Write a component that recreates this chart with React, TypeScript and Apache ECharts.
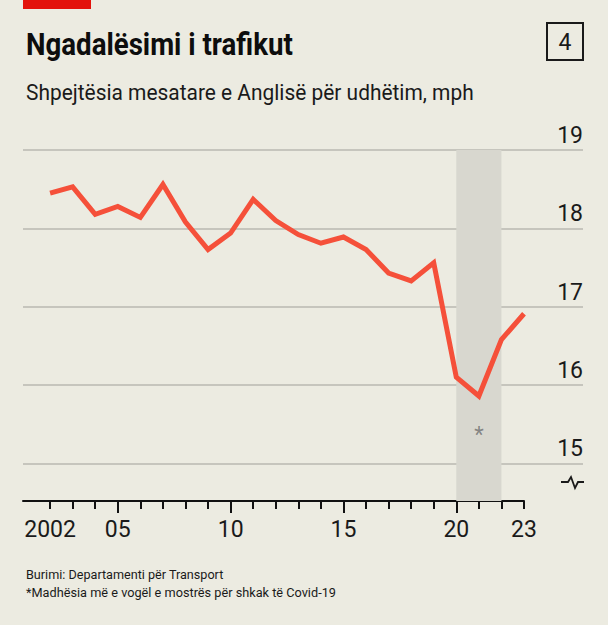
import React, { useEffect, useRef } from "react";
import * as echarts from "echarts";

const years = [2002, 2003, 2004, 2005, 2006, 2007, 2008, 2009, 2010, 2011, 2012, 2013, 2014, 2015, 2016, 2017, 2018, 2019, 2020, 2021, 2022, 2023];
const speeds = [18.45, 18.53, 18.18, 18.28, 18.14, 18.56, 18.08, 17.73, 17.94, 18.37, 18.1, 17.92, 17.81, 17.89, 17.73, 17.43, 17.33, 17.56, 16.1, 15.86, 16.58, 16.91];
const yTicks = [15, 16, 17, 18, 19];
const xLabelYears = [2002, 2005, 2010, 2015, 2020, 2023];
const xMajorTicks = [2005, 2010, 2015, 2020];
const covidSpan = [2020, 2022];
const footnoteMark = [2021, 15.37];

const title = "Ngadalësimi i trafikut";
const subtitle = "Shpejtësia mesatare e Anglisë për udhëtim, mph";
const source = "Burimi: Departamenti për Transport";
const note = "*Madhësia më e vogël e mostrës për shkak të Covid-19";
const chartNumber = "4";

const BG = "#ecebe1";
const LINE = "#f5503a";
const TEXT = "#1a1a1a";
const FONT = "Roboto, 'Liberation Sans', sans-serif";

function fitScale(text: string, font: string, width: number): number {
  const c = document.createElement("canvas").getContext("2d");
  if (!c) return 1;
  c.font = font;
  const w = c.measureText(text).width;
  return w > 0 ? width / w : 1;
}

export default function App() {
  const ref = useRef<HTMLDivElement>(null);
  useEffect(() => {
    if (!ref.current) return;
    const chart = echarts.init(ref.current, null, { renderer: "svg" });
    const yMin = 14.52;
    const yMax = 19;
    const xMin = 2000.8;
    const xMax = 2023;

    const titleFont = `bold 32px ${FONT}`;
    const subFont = `22px ${FONT}`;
    const smallFont = `13px ${FONT}`;
    const titleScale = fitScale(title, titleFont, 267);
    const subScale = fitScale(subtitle, subFont, 448);
    const srcScale = fitScale(source, smallFont, 198);
    const noteScale = fitScale(note, smallFont, 310);

    chart.setOption({
      animation: false,
      backgroundColor: BG,
      grid: [
        { left: 23, right: 25, top: 150, bottom: 124 },
        { left: 23, right: 84, top: 150, bottom: 124 },
      ],
      xAxis: [
        { type: "value", gridIndex: 0, min: xMin, max: 2025.6, show: false },
        {
          type: "value", gridIndex: 1, min: xMin, max: xMax,
          splitLine: { show: false },
          axisLine: { show: true, onZero: false, lineStyle: { color: "#111", width: 2 } },
          axisTick: { show: true, length: 8, customValues: years, lineStyle: { color: "#111", width: 2 } },
          axisLabel: {
            show: true, customValues: xLabelYears, margin: 17,
            fontFamily: FONT, fontSize: 23, color: TEXT,
            formatter: (v: number) => (v === 2002 ? "2002" : String(v % 100).padStart(2, "0")),
          },
        },
        {
          type: "value", gridIndex: 1, min: xMin, max: xMax, position: "bottom",
          splitLine: { show: false },
          axisLine: { show: false, onZero: false },
          axisTick: { show: true, length: 12, customValues: xMajorTicks, lineStyle: { color: "#111", width: 2 } },
          axisLabel: { show: false },
        },
      ],
      yAxis: [
        {
          type: "value", gridIndex: 0, min: yMin, max: yMax, position: "right",
          axisLine: { show: false },
          axisTick: { show: false, customValues: yTicks },
          splitLine: { show: true, lineStyle: { color: "#c6c5bd", width: 2 } },
          axisLabel: {
            show: true, inside: true, margin: 0, customValues: yTicks,
            verticalAlign: "bottom", align: "right", padding: [0, 0, 3, 0],
            fontFamily: FONT, fontSize: 23, color: TEXT,
          },
        },
        { type: "value", gridIndex: 1, min: yMin, max: yMax, show: false },
      ],
      series: [
        {
          type: "line",
          xAxisIndex: 1, yAxisIndex: 1,
          data: years.map((y, i) => [y, speeds[i]]),
          symbol: "none",
          lineStyle: { color: LINE, width: 5, join: "miter" },
          z: 3,
          markArea: {
            silent: true,
            itemStyle: { color: "#d8d7cf" },
            data: [[{ xAxis: covidSpan[0] }, { xAxis: covidSpan[1] }]],
          },
        },
        {
          type: "scatter",
          xAxisIndex: 1, yAxisIndex: 1,
          data: [footnoteMark],
          symbolSize: 0,
          label: {
            show: true, position: "inside", formatter: "*",
            fontFamily: FONT, fontSize: 22, color: "#6f6f6f",
          },
          z: 4,
        },
      ],
      graphic: [
        { type: "rect", shape: { x: 23, y: 0, width: 68, height: 9 }, style: { fill: "#e3120b" } },
        {
          type: "text", x: 26, y: 28, scaleX: titleScale,
          style: { text: title, font: titleFont, fill: "#0d0d0d" } as any,
        },
        {
          type: "text", x: 26, y: 81, scaleX: subScale,
          style: { text: subtitle, font: subFont, fill: TEXT } as any,
        },
        {
          type: "rect", shape: { x: 547, y: 23, width: 36, height: 37 },
          style: { fill: "none", stroke: "#1a1a1a", lineWidth: 2 },
        },
        {
          type: "text", x: 565, y: 42,
          style: { text: chartNumber, font: `23px ${FONT}`, fill: TEXT, textAlign: "center", textVerticalAlign: "middle" } as any,
        },
        {
          type: "polyline",
          shape: { points: [[561, 482], [568, 482], [571, 477], [575, 488], [578, 482], [584, 482]] },
          style: { stroke: "#1a1a1a", lineWidth: 1.8, fill: "none" },
        },
        {
          type: "text", x: 26, y: 568, scaleX: srcScale,
          style: { text: source, font: smallFont, fill: TEXT } as any,
        },
        {
          type: "text", x: 26, y: 586, scaleX: noteScale,
          style: { text: note, font: smallFont, fill: TEXT } as any,
        },
      ],
    });
    return () => chart.dispose();
  }, []);
  return <div ref={ref} style={{ width: 608, height: 625, position: "absolute", left: 0, top: 0 }} />;
}
